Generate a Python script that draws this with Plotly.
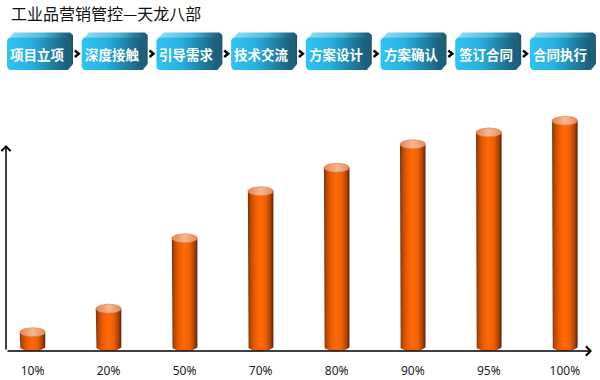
import numpy as np
import plotly.graph_objects as go

# ---------------- data ----------------
title_text = "工业品营销管控—天龙八部"
stages = ["项目立项", "深度接触", "引导需求", "技术交流", "方案设计", "方案确认", "签订合同", "合同执行"]
rate_labels = ["10%", "20%", "50%", "70%", "80%", "90%", "95%", "100%"]
rates = [10, 20, 50, 70, 80, 90, 95, 100]

W, H = 600, 380

# ---------------- geometry of main axes ----------------
x_dom = (6, 592)          # pixel
y_dom = (100, 351)        # pixel (top, bottom)
px_per_unit_x = 76.05
first_center_px = 32.5
xa = -(first_center_px - x_dom[0]) / px_per_unit_x
xb = xa + (x_dom[1] - x_dom[0]) / px_per_unit_x
px_per_unit_y = 2.35
ymin = 2.0
ymax = ymin + (y_dom[1] - y_dom[0]) / px_per_unit_y

hw = 12.75 / px_per_unit_x      # half width of cylinder in data units
ry = 4.5 / px_per_unit_y        # vertical radius of ellipse in data units
base = ymin + ry

body_scale = [[0, '#7a3008'], [0.12, '#c04c05'], [0.3, '#f05f00'], [0.5, '#ff6a08'],
              [0.7, '#f06000'], [0.88, '#ae4306'], [1, '#5c2206']]
top_scale = [[0, '#e2844e'], [0.5, '#f8b890'], [1, '#e48a58']]

fig = go.Figure()

t_bot = np.linspace(np.pi, 2 * np.pi, 30)
t_full = np.linspace(0, 2 * np.pi, 60)
for i, v in enumerate(rates):
    bx = [i - hw, i - hw] + list(i + hw * np.cos(t_bot)) + [i + hw, i + hw]
    by = [v, base] + list(base + ry * np.sin(t_bot)) + [base, v]
    fig.add_trace(go.Scatter(x=bx, y=by, mode='lines', fill='toself',
                             line=dict(width=0, color='rgba(0,0,0,0)'),
                             fillgradient=dict(type='horizontal', colorscale=body_scale),
                             hoverinfo='skip', xaxis='x', yaxis='y'))
    ex = list(i + hw * np.cos(t_full))
    ey = list(v + ry * np.sin(t_full))
    fig.add_trace(go.Scatter(x=ex, y=ey, mode='lines', fill='toself',
                             line=dict(width=0.6, color='#d87a45'),
                             fillgradient=dict(type='horizontal', colorscale=top_scale),
                             hoverinfo='skip', xaxis='x', yaxis='y'))

# ---------------- process boxes (pixel axes) ----------------
def rrect(x0, y0, x1, y1, r, n=6):
    pts = []
    corners = [(x1 - r, y0 + r, -np.pi / 2, 0), (x1 - r, y1 - r, 0, np.pi / 2),
               (x0 + r, y1 - r, np.pi / 2, np.pi), (x0 + r, y0 + r, np.pi, 1.5 * np.pi)]
    for cx, cy, a0, a1 in corners:
        for a in np.linspace(a0, a1, n):
            pts.append((cx + r * np.cos(a), cy + r * np.sin(a)))
    pts.append(pts[0])
    return [p[0] for p in pts], [p[1] for p in pts]

back_scale = [[0, '#94def5'], [0.55, '#4db6da'], [0.8, '#2a7c9c'], [1, '#1c5670']]
front_scale = [[0, '#30c4f3'], [0.4, '#27b0e2'], [0.72, '#1f84a8'], [1, '#1a5c78']]

box_step = 74.7
for k, name in enumerate(stages):
    x0 = 7 + box_step * k
    # back (top + right side)
    bx = [x0 + 2, x0 + 7, x0 + 63, x0 + 66, x0 + 66, x0 + 61, x0 + 2]
    by = [38, 32.5, 32.5, 35, 64, 70, 70]
    fig.add_trace(go.Scatter(x=bx, y=by, mode='lines', fill='toself',
                             line=dict(width=0, color='rgba(0,0,0,0)'),
                             fillgradient=dict(type='horizontal', colorscale=back_scale),
                             hoverinfo='skip', xaxis='x2', yaxis='y2'))
    fx, fy = rrect(x0, 37.5, x0 + 61, 70, 4)
    fig.add_trace(go.Scatter(x=fx, y=fy, mode='lines', fill='toself',
                             line=dict(width=0, color='rgba(0,0,0,0)'),
                             fillgradient=dict(type='horizontal', colorscale=front_scale),
                             hoverinfo='skip', xaxis='x2', yaxis='y2'))
    fig.add_annotation(x=x0 + 30.5, y=53.5, xref='x2', yref='y2', text='<b>' + name + '</b>',
                       showarrow=False, font=dict(family='Noto Sans CJK SC', size=13.5, color='white'))
    if k < len(stages) - 1:
        xc = x0 + 70
        fig.add_trace(go.Scatter(x=[xc - 2.2, xc + 1.8, xc - 2.2], y=[50.5, 53.8, 57], mode='lines',
                                 line=dict(width=2.4, color='black'),
                                 hoverinfo='skip', xaxis='x2', yaxis='y2'))

# title
fig.add_annotation(x=9, y=13, xref='x2', yref='y2', text=title_text,
                   showarrow=False, xanchor='left', yanchor='middle',
                   font=dict(family='Noto Sans CJK SC', size=16, color='#111111'))

# axis arrows (pixel axes)
fig.add_annotation(x=6, y=145, ax=6, ay=351,
                   xref='x2', yref='y2', axref='x2', ayref='y2',
                   text='', showarrow=True, arrowhead=4, arrowsize=1.2, arrowwidth=1.5, arrowcolor='black')
fig.add_annotation(x=592, y=351, ax=6, ay=351,
                   xref='x2', yref='y2', axref='x2', ayref='y2',
                   text='', showarrow=True, arrowhead=4, arrowsize=1.2, arrowwidth=1.5, arrowcolor='black')

fig.update_layout(
    width=W, height=H, margin=dict(l=0, r=0, t=0, b=0, autoexpand=False),
    paper_bgcolor='white', plot_bgcolor='rgba(0,0,0,0)',
    showlegend=False, hovermode=False,
    xaxis=dict(domain=[x_dom[0] / W, x_dom[1] / W], range=[xa, xb], tickvals=list(range(len(rates))),
               ticktext=rate_labels, showgrid=False, zeroline=False, showline=False, ticks='',
               ticklabelstandoff=11, tickfont=dict(family='Noto Sans', size=12, color='#222222'),
               anchor='y', fixedrange=True),
    yaxis=dict(domain=[1 - y_dom[1] / H, 1 - y_dom[0] / H], range=[ymin, ymax], visible=False,
               anchor='x', fixedrange=True),
    xaxis2=dict(domain=[0, 1], range=[0, W], visible=False, anchor='y2', fixedrange=True),
    yaxis2=dict(domain=[0, 1], range=[H, 0], visible=False, anchor='x2', fixedrange=True),
)

fig.write_html("out.html", config={'displayModeBar': False},
               post_script="document.body.style.margin='0px';document.body.style.padding='0px';")
